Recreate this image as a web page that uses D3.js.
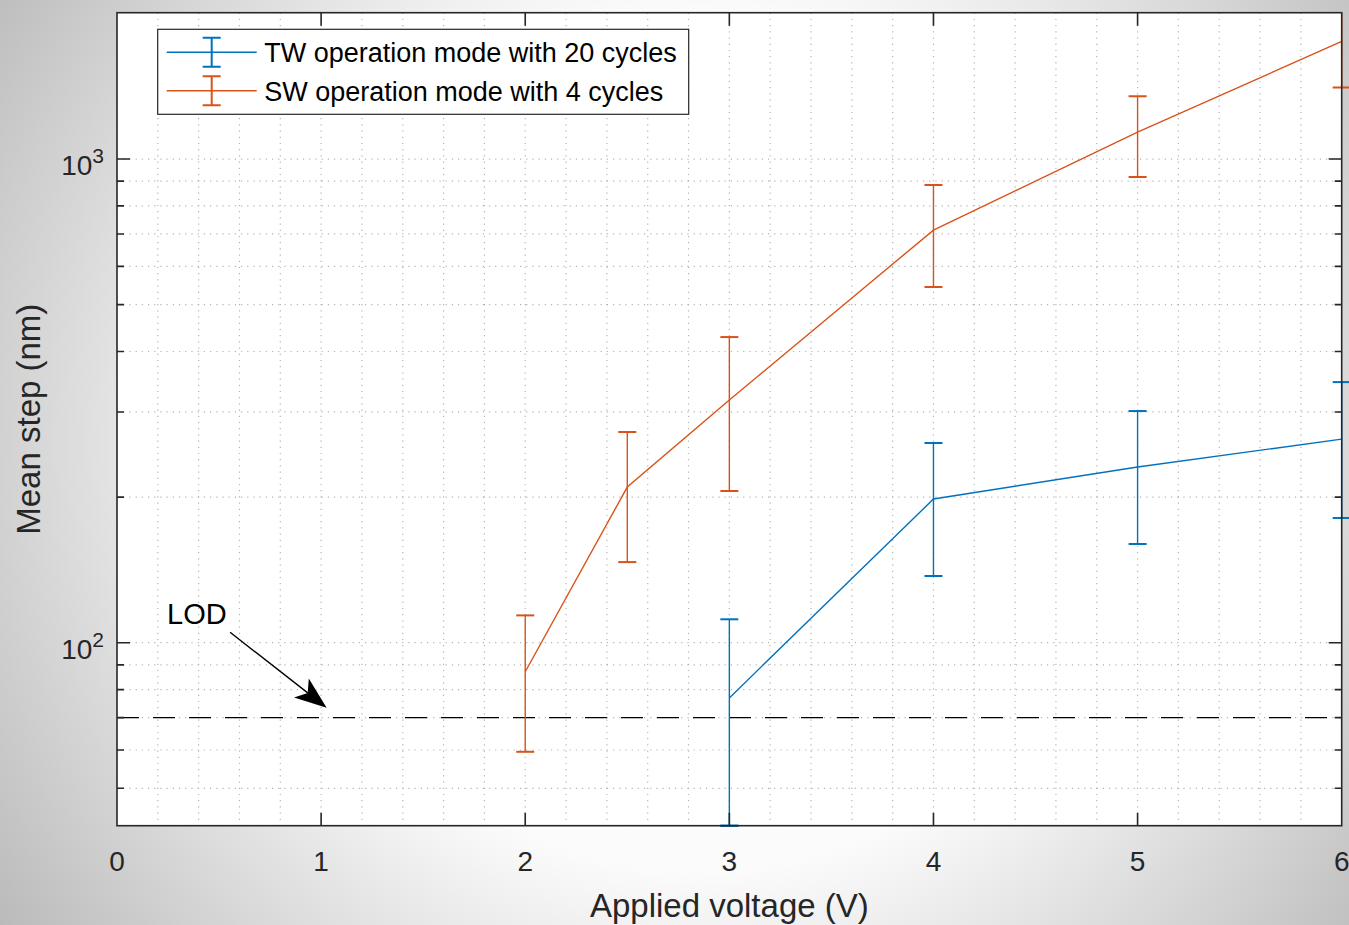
<!DOCTYPE html>
<html>
<head>
<meta charset="utf-8">
<script src="https://cdn.jsdelivr.net/npm/d3@7"></script>
<style>
  body { margin: 0; padding: 0; overflow: hidden; }
  svg { display: block; font-family: "Liberation Sans", Arial, Helvetica, sans-serif; }
</style>
</head>
<body>
<div id="chart"></div>
<script>
// data
var xTickValues = [0, 1, 2, 3, 4, 5, 6];
var yMajorTicks = [100, 1000];
var yMinorTicks = [50, 60, 70, 80, 90, 200, 300, 400, 500, 600, 700, 800, 900];

var twVolts = [3, 4, 5, 6];
var twMean  = [76.9, 198.2, 230.8, 263.6];
var twUpper = [111.8, 258.8, 301.3, 345.8];
var twLower = [41.85, 137.4, 160.0, 181.1];

var swVolts = [2, 2.5, 3, 4, 5, 6];
var swMean  = [87.1, 209.8, 317.6, 713, 1137, 1750];
var swUpper = [113.9, 272.7, 428.5, 883.7, 1349, 2200];
var swLower = [59.5, 146.8, 205.9, 543.8, 917.9, 1406];

var seriesNames = ["TW operation mode with 20 cycles", "SW operation mode with 4 cycles"];
var lodValue = 70;
// annotation in data units: label and arrow
var lodLabel = {x: 0.245, y: 109.3};
var lodArrow = {x1: 0.554, y1: 105.1, x2: 1.027, y2: 73.4};

var W = 1349, H = 925;
var margin = {top: 12.7, right: 7.3, bottom: 99.3, left: 117};
var width = W - margin.left - margin.right;
var height = H - margin.top - margin.bottom;

var blue = "#0072BD", orange = "#D95319", axisColor = "#262626";

var svg = d3.select("#chart").append("svg")
  .attr("width", W)
  .attr("height", H);

var defs = svg.append("defs");
var grad = defs.append("radialGradient")
  .attr("id", "bg")
  .attr("gradientUnits", "userSpaceOnUse")
  .attr("cx", 700).attr("cy", 440).attr("r", 860);
grad.append("stop").attr("offset", "0").attr("stop-color", "#ffffff");
grad.append("stop").attr("offset", "0.5").attr("stop-color", "#fbfbfb");
grad.append("stop").attr("offset", "1").attr("stop-color", "#b9b9b9");

defs.append("clipPath").attr("id", "clip")
  .append("rect")
  .attr("x", -20).attr("y", 0)
  .attr("width", width + 40).attr("height", height + 2);

svg.append("rect").attr("width", W).attr("height", H).attr("fill", "url(#bg)");

var g = svg.append("g").attr("transform", "translate(" + margin.left + "," + margin.top + ")");

var x = d3.scaleLinear().domain([0, 6]).range([0, width]);
var y = d3.scaleLog().domain([41.85, 2007]).range([height, 0]);

g.append("rect").attr("width", width).attr("height", height).attr("fill", "#fff");

// grid
var gridX = x.ticks(30).filter(function(d) { return d > 0 && d < 6; });
g.append("g").selectAll("line")
  .data(gridX).enter().append("line")
  .attr("x1", function(d) { return x(d); }).attr("x2", function(d) { return x(d); })
  .attr("y1", 0).attr("y2", height)
  .attr("stroke", "#b4b4b4").attr("stroke-width", 1.2)
  .attr("stroke-dasharray", "1.2,5");

g.append("g").selectAll("line")
  .data(yMajorTicks.concat(yMinorTicks)).enter().append("line")
  .attr("x1", 0).attr("x2", width)
  .attr("y1", function(d) { return y(d); }).attr("y2", function(d) { return y(d); })
  .attr("stroke", "#b4b4b4").attr("stroke-width", 1.2)
  .attr("stroke-dasharray", "1.2,5");

// LOD line
g.append("line")
  .attr("x1", 0).attr("x2", width)
  .attr("y1", y(lodValue)).attr("y2", y(lodValue))
  .attr("stroke", "#000").attr("stroke-width", 1.3)
  .attr("stroke-dasharray", "22,14");

// series
var plot = g.append("g").attr("clip-path", "url(#clip)");

function drawSeries(volts, mean, upper, lower, color) {
  var pts = volts.map(function(v, i) {
    return {x: v, m: mean[i], u: upper[i], l: lower[i]};
  });
  var line = d3.line().x(function(d) { return x(d.x); }).y(function(d) { return y(d.m); });
  plot.append("path").datum(pts)
    .attr("d", line)
    .attr("fill", "none").attr("stroke", color).attr("stroke-width", 1.4);

  var bars = plot.append("g").selectAll("g").data(pts).enter().append("g")
    .attr("stroke", color).attr("stroke-width", 1.4);
  bars.append("line")
    .attr("x1", function(d) { return x(d.x); }).attr("x2", function(d) { return x(d.x); })
    .attr("y1", function(d) { return y(d.u); }).attr("y2", function(d) { return y(d.l); });
  bars.append("line")
    .attr("x1", function(d) { return x(d.x) - 9; }).attr("x2", function(d) { return x(d.x) + 9; })
    .attr("y1", function(d) { return y(d.u); }).attr("y2", function(d) { return y(d.u); })
    .attr("stroke-width", 2);
  bars.append("line")
    .attr("x1", function(d) { return x(d.x) - 9; }).attr("x2", function(d) { return x(d.x) + 9; })
    .attr("y1", function(d) { return y(d.l); }).attr("y2", function(d) { return y(d.l); })
    .attr("stroke-width", 2);
}

drawSeries(twVolts, twMean, twUpper, twLower, blue);
drawSeries(swVolts, swMean, swUpper, swLower, orange);

// axes box and ticks
var box = g.append("g").attr("stroke", axisColor).attr("fill", "none");
box.append("rect").attr("width", width).attr("height", height).attr("stroke-width", 1.6);

box.selectAll(".xt").data(xTickValues.slice(1, -1)).enter().append("path")
  .attr("stroke-width", 1.6)
  .attr("d", function(d) {
    return "M" + x(d) + "," + height + "v-13M" + x(d) + ",0v13";
  });

box.selectAll(".ytM").data(yMajorTicks).enter().append("path")
  .attr("stroke-width", 1.6)
  .attr("d", function(d) {
    return "M0," + y(d) + "h13M" + width + "," + y(d) + "h-13";
  });
box.selectAll(".ytm").data(yMinorTicks).enter().append("path")
  .attr("stroke-width", 1.6)
  .attr("d", function(d) {
    return "M0," + y(d) + "h7M" + width + "," + y(d) + "h-7";
  });

// blue cap sitting on the bottom edge redrawn above the axis line
plot.append("line")
  .attr("x1", x(twVolts[0]) - 9).attr("x2", x(twVolts[0]) + 9)
  .attr("y1", y(twLower[0])).attr("y2", y(twLower[0]))
  .attr("stroke", blue).attr("stroke-width", 2);

// tick labels
g.append("g").selectAll("text").data(xTickValues).enter().append("text")
  .attr("x", function(d) { return x(d); })
  .attr("y", height + 45)
  .attr("text-anchor", "middle")
  .attr("font-size", 28)
  .attr("fill", axisColor)
  .text(function(d) { return d; });

var yl = g.append("g").selectAll("text").data(yMajorTicks).enter().append("text")
  .attr("x", -13)
  .attr("y", function(d) { return y(d) + 16; })
  .attr("text-anchor", "end")
  .attr("font-size", 28)
  .attr("fill", axisColor);
yl.append("tspan").text("10");
yl.append("tspan").attr("dy", -12).attr("font-size", 21)
  .text(function(d) { return Math.round(Math.log10(d)); });

// axis labels
g.append("text")
  .attr("x", width / 2).attr("y", height + 91)
  .attr("text-anchor", "middle")
  .attr("font-size", 33)
  .attr("fill", axisColor)
  .text("Applied voltage (V)");

g.append("text")
  .attr("transform", "translate(" + (-77) + "," + (height / 2) + ") rotate(-90)")
  .attr("text-anchor", "middle")
  .attr("font-size", 33)
  .attr("fill", axisColor)
  .text("Mean step (nm)");

// LOD annotation
g.append("text")
  .attr("x", x(lodLabel.x)).attr("y", y(lodLabel.y))
  .attr("font-size", 29)
  .attr("fill", "#000")
  .text("LOD");

(function() {
  var x1 = x(lodArrow.x1), y1 = y(lodArrow.y1), x2 = x(lodArrow.x2), y2 = y(lodArrow.y2);
  var dx = x2 - x1, dy = y2 - y1, len = Math.sqrt(dx * dx + dy * dy);
  var ux = dx / len, uy = dy / len, px = -uy, py = ux;
  var hl = 32, hw = 12, notch = 24;
  var bx = x2 - ux * hl, by = y2 - uy * hl;
  var nx = x2 - ux * notch, ny = y2 - uy * notch;
  g.append("line")
    .attr("x1", x1).attr("y1", y1).attr("x2", nx).attr("y2", ny)
    .attr("stroke", "#000").attr("stroke-width", 1.4);
  g.append("path")
    .attr("d", "M" + x2 + "," + y2 +
      "L" + (bx + px * hw) + "," + (by + py * hw) +
      "L" + nx + "," + ny +
      "L" + (bx - px * hw) + "," + (by - py * hw) + "Z")
    .attr("fill", "#000");
})();

// legend
var lg = svg.append("g").attr("transform", "translate(157.7,29.3)");
lg.append("rect").attr("width", 531).attr("height", 85)
  .attr("fill", "#fff").attr("stroke", axisColor).attr("stroke-width", 1.2);
var entries = lg.selectAll(".entry").data(seriesNames).enter().append("g")
  .attr("transform", function(d, i) { return "translate(0," + (23 + i * 38.4) + ")"; });
entries.append("line").attr("x1", 9).attr("x2", 99).attr("y1", 0).attr("y2", 0)
  .attr("stroke", function(d, i) { return i === 0 ? blue : orange; }).attr("stroke-width", 1.4);
entries.append("path")
  .attr("d", "M45,-14.5h18M54,-14.5v29M45,14.5h18")
  .attr("fill", "none")
  .attr("stroke", function(d, i) { return i === 0 ? blue : orange; }).attr("stroke-width", 2);
entries.append("text")
  .attr("x", 106.5).attr("y", 10)
  .attr("font-size", 27)
  .attr("fill", "#000")
  .text(function(d) { return d; });
</script>
</body>
</html>
